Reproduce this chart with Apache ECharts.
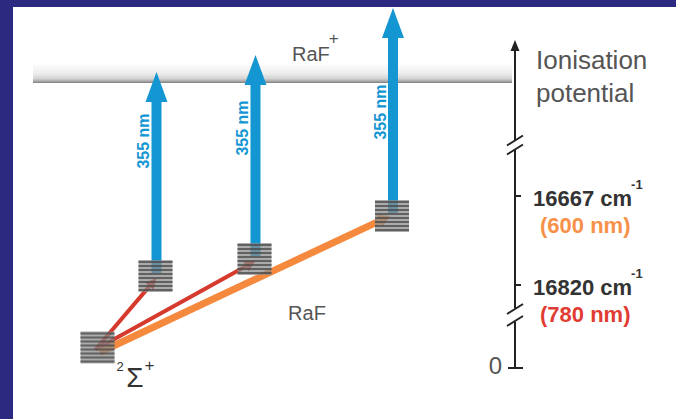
<!DOCTYPE html>
<html><head><meta charset="utf-8">
<script src="https://cdn.jsdelivr.net/npm/echarts@6/dist/echarts.min.js"></script>
<style>html,body{margin:0;padding:0;background:#fff}#c{width:676px;height:419px}</style>
</head><body><div id="c"></div>
<script>
// ---------- data (diagram units: column, height above page bottom) ----------
const levelNames = ['X 2Σ+', 'excited 1', 'excited 2', 'excited 3'];
const levelColumn = [97.5, 155.5, 254.5, 392];
const levelEnergy = [71.5, 143, 160, 203];

const ionisationEnergy = 345;
const ionisationSpan = [33, 512];
const ionLabel = 'RaF';
const ionCharge = '+';
const moleculeLabel = 'RaF';
const groundTerm = ['2', 'Σ', '+'];

const transitionFrom = [0, 0, 0];
const transitionTo = [1, 2, 3];
const transitionLaser = ['780 nm', '780 nm', '600 nm'];

const ionisingFrom = [1, 2, 3];
const ionisingTop = [347, 364, 411];
const ionisingLabel = ['355 nm', '355 nm', '355 nm'];

const scaleTickLabels = ['0', '16820 cm', '16667 cm'];
const scaleTickSup = ['', '-1', '-1'];
const scaleTickEnergy = [51, 134, 223];
const scaleWavelengths = ['', '(780 nm)', '(600 nm)'];
const scaleTop = 379;
const scaleBreaks = [104, 274];
const scaleTitle = ['Ionisation', 'potential'];

// ---------- layout / style ----------
const FONT = '"Liberation Sans", Arial, sans-serif';
const BLUE = '#1396d2', RED = '#d63a2c', ORANGE = '#f5893d';
const scaleColumn = 515;
const ionisingLabelAt = [278, 291, 307];
const moleculeLabelAt = [307, 106];

const measure = (() => { const ctx = document.createElement('canvas').getContext('2d');
  return (t, f) => { ctx.font = f; return ctx.measureText(t).width; }; })();

const chart = echarts.init(document.getElementById('c'), null, {renderer: 'svg', width: 676, height: 419});

const option = {
  backgroundColor: '#ffffff',
  animation: false,
  grid: {left: 0, right: 0, top: 0, bottom: 0},
  xAxis: {type: 'value', min: 0, max: 676, show: false},
  yAxis: {type: 'value', min: 0, max: 419, show: false},
  graphic: [
    {type: 'rect', left: 0, top: 0, shape: {width: 13, height: 419}, style: {fill: '#2c2a80'}, z: 100},
    {type: 'rect', left: 0, top: 0, shape: {width: 676, height: 7}, style: {fill: '#2c2a80'}, z: 100}
  ],
  series: [
    // ionisation potential bar + RaF+ label
    {
      type: 'custom', z: 1, data: [[ionisationSpan[0], ionisationSpan[1], ionisationEnergy]],
      renderItem: (params, api) => {
        const a = api.coord([api.value(0), api.value(2)]);
        const b = api.coord([api.value(1), api.value(2)]);
        const f = '20px ' + FONT;
        const tw = measure(ionLabel, f);
        const tx = 292;
        return {type: 'group', children: [
          {type: 'rect', shape: {x: a[0], y: a[1] - 9, width: b[0] - a[0], height: 18},
            style: {fill: new echarts.graphic.LinearGradient(0, 0, 0, 1, [
              {offset: 0, color: '#fbfbfb'}, {offset: 0.45, color: '#eeeeee'},
              {offset: 0.75, color: '#d4d4d4'}, {offset: 0.9, color: '#a9a9a9'}, {offset: 1, color: '#7c7c7c'}])}},
          {type: 'text', x: tx, y: a[1] - 20.5, style: {text: ionLabel, font: f, fill: '#555', align: 'left', verticalAlign: 'middle'}},
          {type: 'text', x: tx + tw + 4, y: a[1] - 36, style: {text: ionCharge, font: '17px ' + FONT, fill: '#555', align: 'center', verticalAlign: 'middle'}}
        ]};
      }
    },
    // laser excitation transitions
    {
      type: 'custom', z: 2,
      data: transitionFrom.map((f, i) => [levelColumn[f], levelEnergy[f], levelColumn[transitionTo[i]], levelEnergy[transitionTo[i]]]),
      renderItem: (params, api) => {
        const i = params.dataIndex;
        const p0 = api.coord([api.value(0), api.value(1)]);
        const p1 = api.coord([api.value(2), api.value(3)]);
        const isOrange = transitionLaser[i] === '600 nm';
        const color = isOrange ? ORANGE : RED;
        const w = isOrange ? 7 : 4;
        const hl = isOrange ? 12 : 11, hw = isOrange ? 7 : 5.5;
        const s = [p0[0] + (isOrange ? 2 : -2), p0[1] + (isOrange ? 5 : 2)];
        const e = [p1[0] + (isOrange ? -2 : 1), p1[1] + (isOrange ? 0 : 2)];
        const dx = e[0] - s[0], dy = e[1] - s[1], L = Math.hypot(dx, dy), ux = dx / L, uy = dy / L;
        const b = [e[0] - ux * hl, e[1] - uy * hl];
        return {type: 'group', children: [
          {type: 'line', shape: {x1: s[0], y1: s[1], x2: b[0], y2: b[1]}, style: {stroke: color, lineWidth: w}},
          {type: 'polygon', shape: {points: [[e[0], e[1]], [b[0] - uy * hw, b[1] + ux * hw], [b[0] + uy * hw, b[1] - ux * hw]]}, style: {fill: color}}
        ]};
      }
    },
    // ionising 355 nm arrows
    {
      type: 'custom', z: 3,
      data: ionisingFrom.map((f, i) => [levelColumn[f], levelEnergy[f], ionisingTop[i]]),
      renderItem: (params, api) => {
        const i = params.dataIndex;
        const base = api.coord([api.value(0), api.value(1)]);
        const tip = api.coord([api.value(0), api.value(2)]);
        const lab = api.coord([api.value(0), ionisingLabelAt[i]]);
        const hl = 30, hw = 11, sw = 10;
        const x = base[0] + 1;
        return {type: 'group', children: [
          {type: 'rect', shape: {x: x - sw / 2, y: tip[1] + hl - 1, width: sw, height: base[1] - 3 - (tip[1] + hl - 1)}, style: {fill: BLUE}},
          {type: 'polygon', shape: {points: [[x, tip[1]], [x - hw, tip[1] + hl], [x + hw, tip[1] + hl]]}, style: {fill: BLUE}},
          {type: 'text', x: x - 13, y: lab[1], rotation: Math.PI / 2,
            style: {text: ionisingLabel[i], font: 'bold 16px ' + FONT, fill: BLUE, align: 'center', verticalAlign: 'middle'}}
        ]};
      }
    },
    // vibrational level stacks
    {
      type: 'custom', z: 4,
      data: levelColumn.map((x, i) => [x, levelEnergy[i]]),
      renderItem: (params, api) => {
        const i = params.dataIndex;
        const c = api.coord([api.value(0), api.value(1)]);
        const w = 34, h = 32;
        const x0 = c[0] - w / 2, y0 = c[1] - h / 2;
        const ch = [{type: 'rect', shape: {x: x0, y: y0, width: w, height: h}, style: {fill: '#8a8a8a', opacity: 0.72}}];
        for (let k = 0; k < 8; k++) {
          ch.push({type: 'rect', shape: {x: x0, y: y0 + 1 + k * 4, width: w, height: 2}, style: {fill: '#444', opacity: 0.72}});
        }
        if (i === 0) {
          ch.push({type: 'text', x: c[0] + 22.5, y: c[1] + 18.5, style: {text: groundTerm[0], font: '13px ' + FONT, fill: '#333', align: 'center', verticalAlign: 'middle'}});
          ch.push({type: 'text', x: c[0] + 37.5, y: c[1] + 30, style: {text: groundTerm[1], font: '28px ' + FONT, fill: '#333', align: 'center', verticalAlign: 'middle'}});
          ch.push({type: 'text', x: c[0] + 52, y: c[1] + 17.5, style: {text: groundTerm[2], font: '17px ' + FONT, fill: '#333', align: 'center', verticalAlign: 'middle'}});
        }
        return {type: 'group', children: ch};
      }
    },
    // molecule label
    {
      type: 'custom', z: 5, data: [moleculeLabelAt],
      renderItem: (params, api) => {
        const c = api.coord([api.value(0), api.value(1)]);
        return {type: 'text', x: c[0], y: c[1], style: {text: moleculeLabel, font: '20px ' + FONT, fill: '#555', align: 'center', verticalAlign: 'middle'}};
      }
    },
    // energy scale on the right
    {
      type: 'custom', z: 5, data: [[scaleColumn, scaleTickEnergy[0], scaleTop]],
      renderItem: (params, api) => {
        const x = api.coord([api.value(0), 0])[0];
        const yb = api.coord([0, api.value(1)])[1];
        const yt = api.coord([0, api.value(2)])[1];
        const br0 = api.coord([0, scaleBreaks[0]])[1];
        const br1 = api.coord([0, scaleBreaks[1]])[1];
        const st = {stroke: '#222', lineWidth: 2};
        const ch = [];
        const seg = (a, b) => ch.push({type: 'line', shape: {x1: x, y1: a, x2: x, y2: b}, style: st});
        seg(yb, br0 + 7);
        seg(br0 - 7, br1 + 4.5);
        seg(br1 - 4.5, yt + 9);
        ch.push({type: 'polygon', shape: {points: [[x, yt], [x - 4.5, yt + 11], [x + 4.5, yt + 11]]}, style: {fill: '#222'}});
        [[br0, 6], [br1, 4.5]].forEach(([y, g]) => {
          [-g, g].forEach(d => ch.push({type: 'line', shape: {x1: x - 8, y1: y + d + 5, x2: x + 8, y2: y + d - 5}, style: {stroke: '#222', lineWidth: 2}}));
        });
        scaleTickEnergy.forEach((e, i) => {
          const y = api.coord([0, e])[1];
          if (i === 0) {
            ch.push({type: 'line', shape: {x1: x - 7, y1: y, x2: x + 8, y2: y}, style: st});
            ch.push({type: 'text', x: x - 13, y: y - 3, style: {text: scaleTickLabels[i], font: '24px ' + FONT, fill: '#555', align: 'right', verticalAlign: 'middle'}});
          } else {
            ch.push({type: 'line', shape: {x1: x, y1: y, x2: x + 6, y2: y}, style: st});
            const f = 'bold 22px ' + FONT;
            const tw = measure(scaleTickLabels[i], f);
            ch.push({type: 'text', x: x + 18, y: y + 2.5, style: {text: scaleTickLabels[i], font: f, fill: '#333', align: 'left', verticalAlign: 'middle'}});
            ch.push({type: 'text', x: x + 18 + tw - 1, y: y - 12, style: {text: scaleTickSup[i], font: 'bold 13px ' + FONT, fill: '#333', align: 'left', verticalAlign: 'middle'}});
            ch.push({type: 'text', x: x + 25, y: y + 29, style: {text: scaleWavelengths[i], font: 'bold 22px ' + FONT,
              fill: scaleWavelengths[i] === '(600 nm)' ? '#f7914a' : '#e03c33', align: 'left', verticalAlign: 'middle'}});
          }
        });
        ch.push({type: 'text', x: x + 21, y: yt + 20, style: {text: scaleTitle[0], font: '26px ' + FONT, fill: '#555', align: 'left', verticalAlign: 'middle'}});
        ch.push({type: 'text', x: x + 21, y: yt + 53, style: {text: scaleTitle[1], font: '26px ' + FONT, fill: '#555', align: 'left', verticalAlign: 'middle'}});
        return {type: 'group', children: ch};
      }
    }
  ]
};
chart.setOption(option);
</script>
</body></html>
